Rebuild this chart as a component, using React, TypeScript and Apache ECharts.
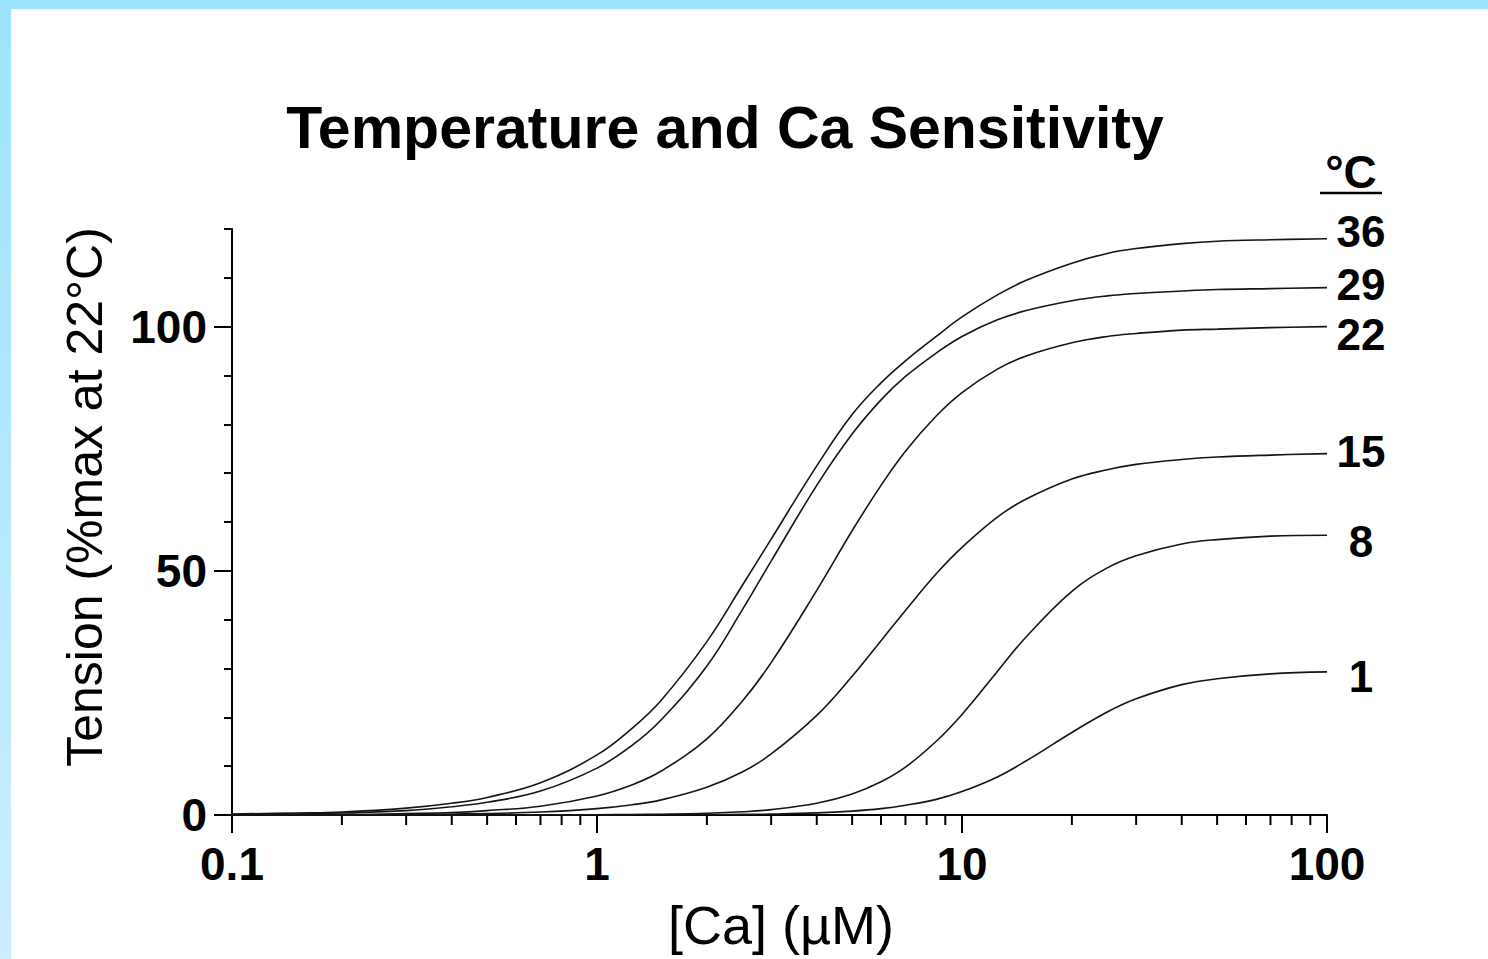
import React, { useEffect, useRef } from 'react';
import * as echarts from 'echarts';

const FONT = "'Liberation Sans', Arial, Helvetica, sans-serif";

const chartTitle = 'Temperature and Ca Sensitivity';
const xTitle = '[Ca] (µM)';
const yTitle = 'Tension (%max at 22°C)';
const legendHeader = '°C';

// [Ca] (µM) sample points
const caConc = [0.1, 0.15, 0.2, 0.3, 0.4, 0.5, 0.7, 1, 1.25, 1.5, 2, 2.5, 3, 4, 5, 6, 7, 8.5, 10, 12.5, 15, 20, 25, 30, 40, 50, 70, 100];

const temps = ['36', '29', '22', '15', '8', '1'];

const t36 = [0.2, 0.4, 0.6, 1.4, 2.4, 3.6, 6.6, 12.3, 17.8, 23.5, 35.5, 47, 56.5, 71.5, 82, 88.5, 93, 98, 102, 106.5, 109.5, 113, 115, 116, 117, 117.5, 117.8, 118];
const t29 = [0.1, 0.2, 0.4, 0.9, 1.7, 2.6, 4.9, 9.6, 14.3, 19.5, 30.5, 42, 52, 67.5, 78, 85, 89.8, 94.6, 98, 101.4, 103.3, 105.3, 106.3, 106.8, 107.3, 107.6, 107.8, 108];
const t22 = [0, 0.1, 0.1, 0.3, 0.5, 0.9, 1.8, 3.9, 6.2, 9, 15.6, 23.3, 31.2, 46, 58.2, 67.5, 74.5, 81.7, 86.5, 91.3, 94, 96.7, 98, 98.6, 99.3, 99.5, 99.8, 100];
const t15 = [0, 0, 0, 0.1, 0.2, 0.3, 0.6, 1.3, 2.1, 3.1, 5.7, 8.8, 12.5, 20.4, 28.4, 35.7, 41.9, 49.4, 54.8, 61, 64.7, 68.8, 70.7, 71.8, 72.8, 73.3, 73.7, 74];
const t8 = [0, 0, 0, 0, 0, 0, 0, 0.05, 0.1, 0.16, 0.35, 0.66, 1.1, 2.4, 4.3, 6.8, 9.8, 15.1, 20.6, 29.4, 36.5, 45.8, 50.6, 53.1, 55.5, 56.4, 57.1, 57.3];
const t1 = [0, 0, 0, 0, 0, 0, 0, 0, 0, 0, 0.06, 0.12, 0.19, 0.43, 0.8, 1.3, 2, 3.2, 4.8, 7.8, 11.1, 16.9, 21.1, 23.8, 26.7, 27.9, 28.9, 29.3];

const seriesValues = [t36, t29, t22, t15, t8, t1];
const labelOffsetY = [-7, -3, 8, -2, 6, 5];

const yMajorTicks = [0, 50, 100];
const minorDecades = [0.1, 1, 10];
const minorMultipliers = [2, 3, 4, 5, 6, 7, 8, 9];

export default function App() {
  const ref = useRef<HTMLDivElement>(null);

  useEffect(() => {
    document.body.style.margin = '0';
    if (!ref.current) return;
    const chart = echarts.init(ref.current, undefined, { renderer: 'svg' });

    const axisLineStyle = { color: '#000', width: 2 };

    const minorTickData: number[][] = [];
    minorDecades.forEach((d) => minorMultipliers.forEach((m) => minorTickData.push([+(d * m).toPrecision(6), 0])));

    const lineSeries = temps.map((name, i) => ({
      name,
      type: 'line',
      data: caConc.map((x, j) => [x, seriesValues[i][j]]),
      smooth: 0.4,
      showSymbol: false,
      symbol: 'none',
      silent: true,
      lineStyle: { color: '#151515', width: 1.6 },
      emphasis: { disabled: true },
      endLabel: {
        show: true,
        formatter: name,
        align: 'center',
        verticalAlign: 'middle',
        offset: [26, labelOffsetY[i]],
        color: '#000',
        fontFamily: FONT,
        fontWeight: 'bold',
        fontSize: 44,
      },
    }));

    const option: any = {
      animation: false,
      backgroundColor: '#fff',
      grid: { left: 232, right: 161, top: 229, bottom: 144, containLabel: false },
      xAxis: {
        type: 'log',
        logBase: 10,
        min: 0.1,
        max: 100,
        axisLine: { show: true, onZero: false, lineStyle: axisLineStyle },
        axisTick: { show: true, length: 18, lineStyle: axisLineStyle },
        axisLabel: {
          show: true,
          color: '#000',
          fontFamily: FONT,
          fontWeight: 'bold',
          fontSize: 46,
          margin: 26,
          formatter: (v: number) => String(+(+v).toPrecision(6)),
        },
        splitLine: { show: false },
        minorTick: { show: false },
        minorSplitLine: { show: false },
      },
      yAxis: [
        {
          type: 'value',
          min: 0,
          max: 120,
          interval: 10,
          axisLine: { show: true, onZero: false, lineStyle: axisLineStyle },
          axisTick: { show: true, length: 8, lineStyle: axisLineStyle },
          axisLabel: { show: false },
          splitLine: { show: false },
        },
        {
          type: 'value',
          min: 0,
          max: 120,
          interval: 10,
          position: 'left',
          axisLine: { show: false },
          axisTick: { show: true, length: 18, customValues: yMajorTicks, lineStyle: axisLineStyle },
          axisLabel: {
            show: true,
            customValues: yMajorTicks,
            color: '#000',
            fontFamily: FONT,
            fontWeight: 'bold',
            fontSize: 46,
            margin: 25,
          },
          splitLine: { show: false },
        },
      ],
      series: [
        ...lineSeries,
        {
          type: 'custom',
          xAxisIndex: 0,
          yAxisIndex: 0,
          silent: true,
          clip: false,
          data: minorTickData,
          renderItem: (params: any, api: any) => {
            const p = api.coord([api.value(0), api.value(1)]);
            return {
              type: 'line',
              shape: { x1: p[0], y1: p[1], x2: p[0], y2: p[1] + 10 },
              style: { stroke: '#000', lineWidth: 2 },
            };
          },
        },
      ],
      graphic: [
        { type: 'rect', z: -10, shape: { x: 0, y: 0, width: 1488, height: 9 }, style: { fill: '#9de3fd' } },
        {
          type: 'rect',
          z: -10,
          shape: { x: 0, y: 0, width: 11, height: 959 },
          style: {
            fill: {
              type: 'linear', x: 0, y: 0, x2: 0, y2: 1,
              colorStops: [
                { offset: 0, color: '#9de3fd' },
                { offset: 1, color: '#ccedfd' },
              ],
            },
          },
        },
        {
          type: 'text',
          x: 725,
          y: 128,
          style: {
            text: chartTitle,
            fill: '#000',
            fontFamily: FONT,
            fontWeight: 'bold',
            fontSize: 59,
            align: 'center',
            verticalAlign: 'middle',
          },
        },
        {
          type: 'text',
          x: 85,
          y: 497,
          rotation: Math.PI / 2,
          style: {
            text: yTitle,
            fill: '#000',
            fontFamily: FONT,
            fontSize: 50,
            align: 'center',
            verticalAlign: 'middle',
          },
        },
        {
          type: 'text',
          x: 781,
          y: 925,
          style: {
            text: xTitle,
            fill: '#000',
            fontFamily: FONT,
            fontSize: 54,
            align: 'center',
            verticalAlign: 'middle',
          },
        },
        {
          type: 'text',
          x: 1351,
          y: 172,
          style: {
            text: legendHeader,
            fill: '#000',
            fontFamily: FONT,
            fontWeight: 'bold',
            fontSize: 46,
            align: 'center',
            verticalAlign: 'middle',
          },
        },
        {
          type: 'line',
          shape: { x1: 1320, y1: 193, x2: 1382, y2: 193 },
          style: { stroke: '#000', lineWidth: 2.5 },
        },
      ],
    };

    chart.setOption(option);
    return () => chart.dispose();
  }, []);

  return <div ref={ref} style={{ width: 1488, height: 959 }} />;
}
